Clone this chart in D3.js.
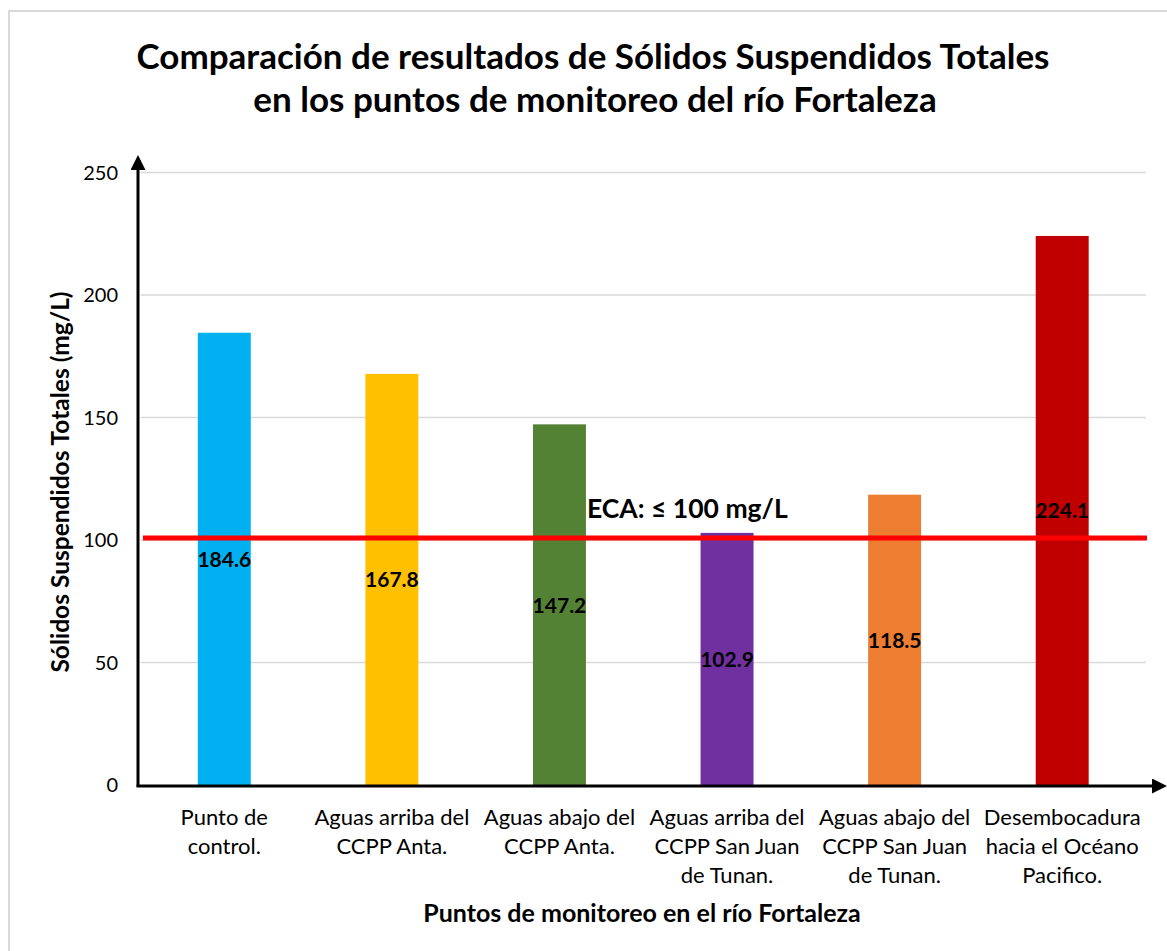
<!DOCTYPE html>
<html>
<head>
<meta charset="utf-8">
<script src="https://cdn.jsdelivr.net/npm/d3@7"></script>
<style>
  body { margin: 0; background: #fff; }
  text { font-family: Lato, "Open Sans", sans-serif; fill: #000; }
</style>
</head>
<body>
<svg width="1167" height="951"></svg>
<script>
// chart data
const puntos = [
  ["Punto de", "control."],
  ["Aguas arriba del", "CCPP Anta."],
  ["Aguas abajo del", "CCPP Anta."],
  ["Aguas arriba del", "CCPP San Juan", "de Tunan."],
  ["Aguas abajo del", "CCPP San Juan", "de Tunan."],
  ["Desembocadura", "hacia el Océano", "Pacifico."]
];
const solidos = [184.6, 167.8, 147.2, 102.9, 118.5, 224.1];
const colores = ["#00b0f0", "#ffc000", "#548235", "#7030a0", "#ed7d31", "#c00000"];
const yTicks = [0, 50, 100, 150, 200, 250];
const eca = 100;

const svg = d3.select("svg");

// outer chart border
svg.append("rect")
  .attr("x", 9).attr("y", 11)
  .attr("width", 1170).attr("height", 960)
  .attr("fill", "none").attr("stroke", "#d9d9d9").attr("stroke-width", 2);

const plotL = 140.5, plotR = 1146, plotT = 172.5, plotB = 785;

const x = d3.scaleBand()
  .domain(d3.range(solidos.length))
  .range([plotL, plotR])
  .paddingInner(0.684)
  .paddingOuter(0.342);

const y = d3.scaleLinear().domain([0, 250]).range([plotB, plotT]);

// gridlines
svg.append("g")
  .selectAll("line")
  .data(yTicks.filter(d => d > 0))
  .enter()
  .append("line")
  .attr("x1", plotL).attr("x2", plotR)
  .attr("y1", d => y(d)).attr("y2", d => y(d))
  .attr("stroke", "#d9d9d9").attr("stroke-width", 1.5);

// y tick labels
svg.append("g")
  .selectAll("text")
  .data(yTicks)
  .enter()
  .append("text")
  .attr("x", 118)
  .attr("y", d => y(d) + 7)
  .attr("text-anchor", "end")
  .style("font-size", "20px")
  .text(d => d);

// bars
svg.append("g")
  .selectAll("rect")
  .data(solidos)
  .enter()
  .append("rect")
  .attr("x", (d, i) => x(i))
  .attr("width", x.bandwidth())
  .attr("y", d => y(d))
  .attr("height", d => plotB - y(d))
  .attr("fill", (d, i) => colores[i]);

// ECA reference line
svg.append("line")
  .attr("x1", 143).attr("x2", 1147)
  .attr("y1", y(eca) - 2).attr("y2", y(eca) - 2)
  .attr("stroke", "#ff0000").attr("stroke-width", 5);

svg.append("text")
  .attr("x", 587).attr("y", 518)
  .style("font-size", "26.5px").style("font-weight", "bold")
  .text("ECA: ≤ 100 mg/L");

// value labels centred in bars
svg.append("g")
  .selectAll("text")
  .data(solidos)
  .enter()
  .append("text")
  .attr("x", (d, i) => x(i) + x.bandwidth() / 2)
  .attr("y", d => (y(d) + plotB) / 2 + 8)
  .attr("text-anchor", "middle")
  .style("font-size", "21px").style("font-weight", "bold")
  .text(d => d.toFixed(1));

// axes with arrows
svg.append("defs").append("marker")
  .attr("id", "flecha")
  .attr("viewBox", "0 0 10 10")
  .attr("refX", 0).attr("refY", 5)
  .attr("markerWidth", 5).attr("markerHeight", 5)
  .attr("markerUnits", "strokeWidth")
  .attr("orient", "auto")
  .append("path")
  .attr("d", "M0,0 L10,5 L0,10 z")
  .attr("fill", "#000");

svg.append("line")
  .attr("x1", 138).attr("x2", 138)
  .attr("y1", plotB + 1.5).attr("y2", 170)
  .attr("stroke", "#000").attr("stroke-width", 3)
  .attr("marker-end", "url(#flecha)");

svg.append("line")
  .attr("x1", 136.5).attr("x2", 1152)
  .attr("y1", plotB + 1).attr("y2", plotB + 1)
  .attr("stroke", "#000").attr("stroke-width", 3)
  .attr("marker-end", "url(#flecha)");

// category labels
const cat = svg.append("g")
  .selectAll("text")
  .data(puntos)
  .enter()
  .append("text")
  .attr("text-anchor", "middle")
  .style("font-size", "22px");

cat.selectAll("tspan")
  .data((d, i) => d.map(t => ({ t: t, i: i })))
  .enter()
  .append("tspan")
  .attr("x", d => x(d.i) + x.bandwidth() / 2)
  .attr("y", (d, j) => 825 + j * 29)
  .text(d => d.t);

// titles
svg.append("text")
  .attr("x", 593).attr("y", 69)
  .attr("text-anchor", "middle")
  .style("font-size", "35px").style("font-weight", "bold")
  .text("Comparación de resultados de Sólidos Suspendidos Totales");

svg.append("text")
  .attr("x", 595).attr("y", 112)
  .attr("text-anchor", "middle")
  .style("font-size", "35px").style("font-weight", "bold")
  .text("en los puntos de monitoreo del río Fortaleza");

svg.append("text")
  .attr("x", 642).attr("y", 922)
  .attr("text-anchor", "middle")
  .style("font-size", "25px").style("font-weight", "bold")
  .text("Puntos de monitoreo en el río Fortaleza");

svg.append("text")
  .attr("transform", "translate(69,482) rotate(-90)")
  .attr("text-anchor", "middle")
  .style("font-size", "24.5px").style("font-weight", "bold")
  .text("Sólidos Suspendidos Totales (mg/L)");
</script>
</body>
</html>
